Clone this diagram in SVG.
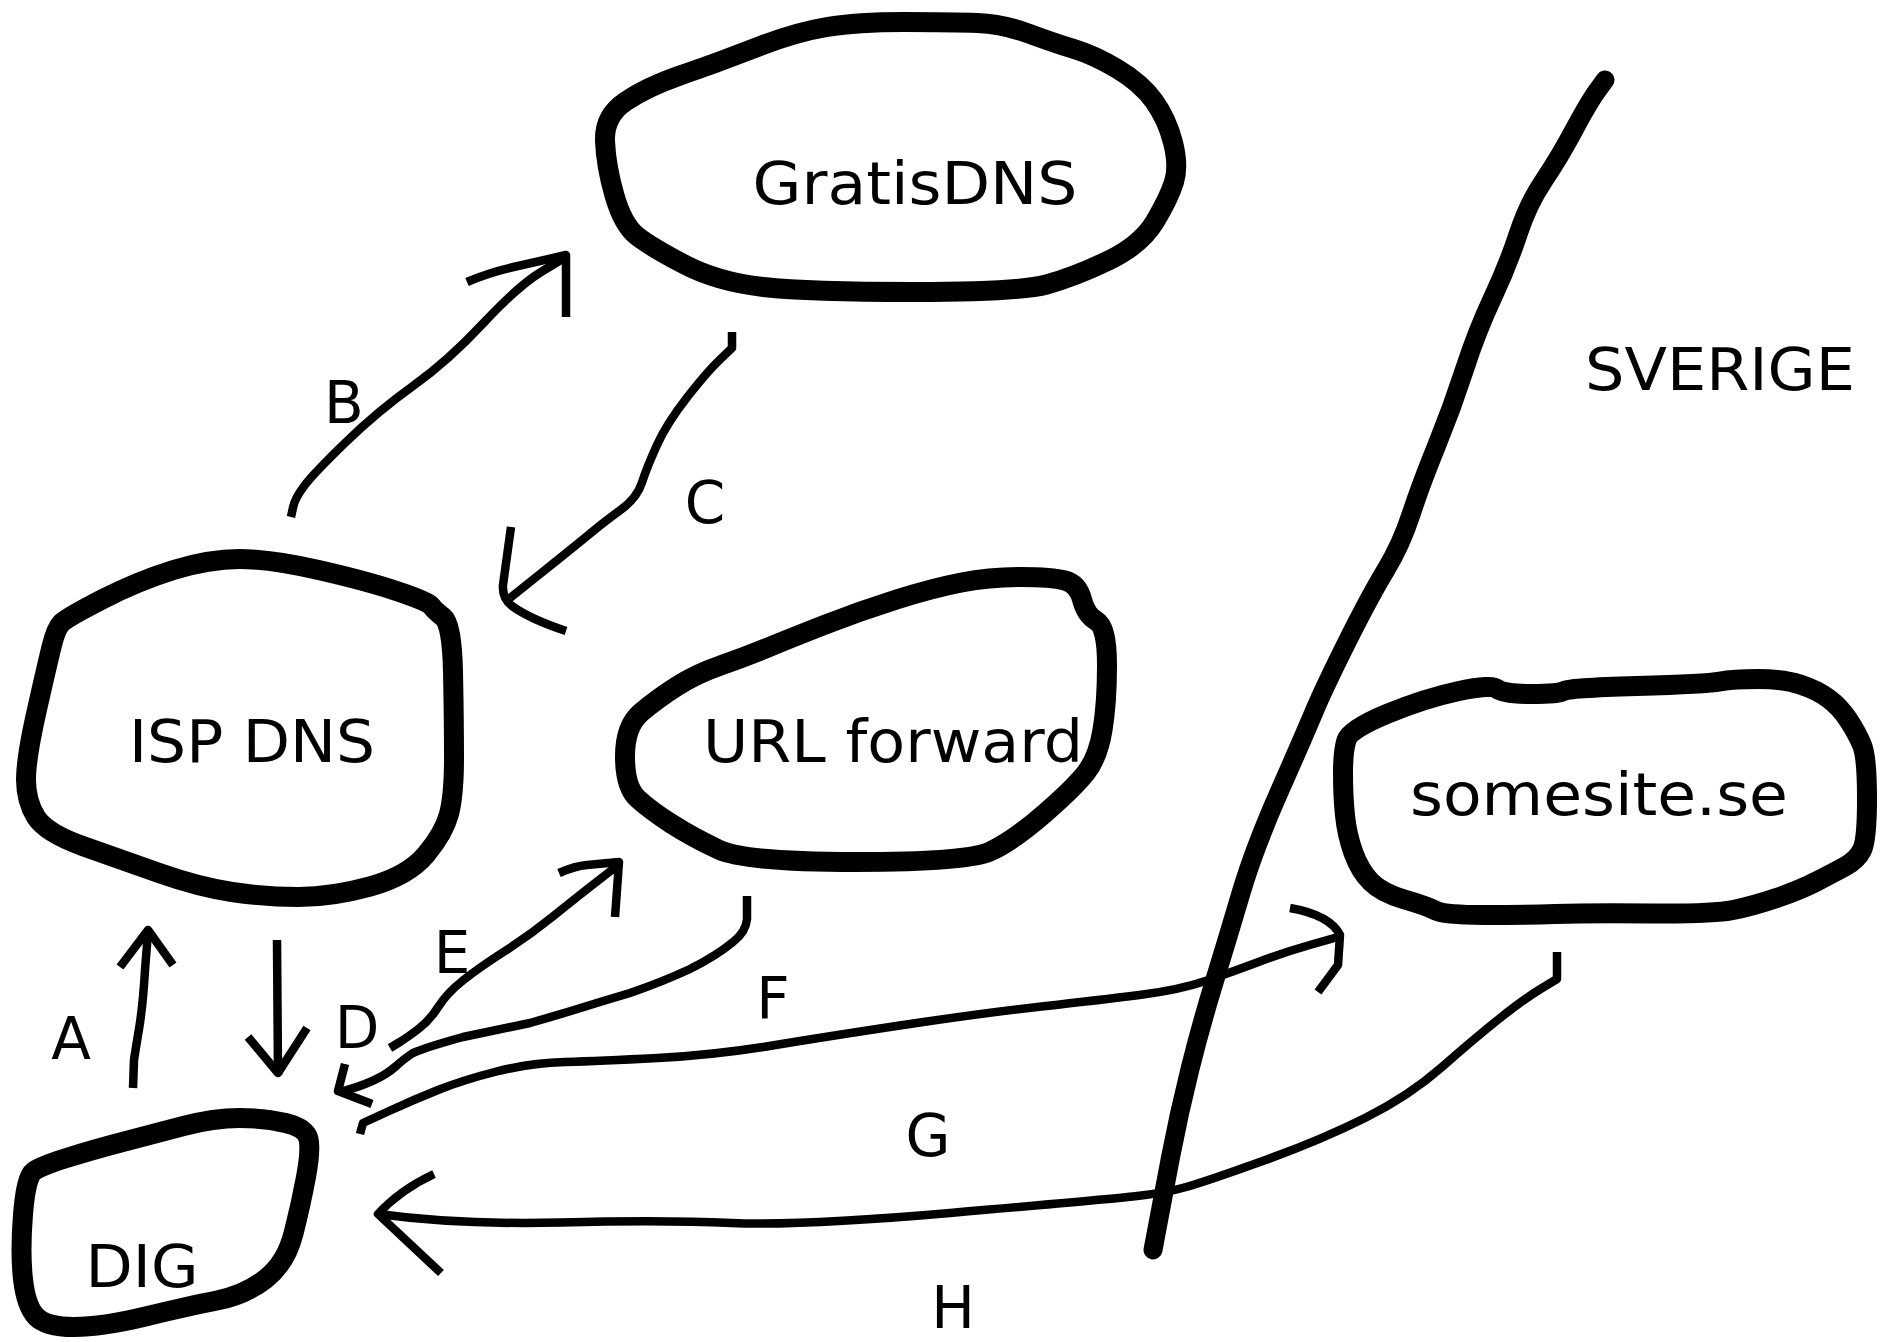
<svg xmlns="http://www.w3.org/2000/svg" width="1899" height="1342" viewBox="0 0 1899 1342">
<style>
.blob{fill:none;stroke:#000;stroke-width:20;stroke-linejoin:round}
.con{fill:none;stroke:#000;stroke-width:8.5;stroke-linejoin:round;stroke-linecap:butt}
.border{fill:none;stroke:#000;stroke-width:19;stroke-linejoin:round;stroke-linecap:round}
text{font-family:"DejaVu Sans","Liberation Sans",sans-serif;font-size:58px;fill:#000;text-anchor:middle}
</style>
<rect x="0" y="0" width="1899" height="1342" fill="#fff"/>

<g id="border">
<path class="border" d="M1605,80 L1597,91 Q1589,102 1574,130 Q1559,158 1543.5,181 Q1528,204 1518,234.5 Q1508,265 1492.5,298 Q1477,331 1464.5,369.5 Q1452,408 1436.5,446 Q1421,484 1411,514.5 Q1401,545 1385.5,570.5 Q1370,596 1347,642 Q1324,688 1313.5,713 Q1303,738 1278.5,793.5 Q1254,849 1241,893 Q1228,937 1214.5,981 Q1201,1025 1190,1069 Q1179,1113 1170.5,1157.5 Q1162,1202 1157.5,1226 L1153,1250"/>
<text x="1720" y="390" textLength="270" lengthAdjust="spacingAndGlyphs">SVERIGE</text>
</g>

<g id="gratisdns">
<path class="blob" d="M625.5,101.5 Q604,116 605,141 Q606,166 614.5,195.5 Q623,225 637,236 Q651,247 684.5,264.5 Q718,282 763.5,287 Q809,292 914,292 Q1019,292 1046.5,284.5 Q1074,277 1107.5,261 Q1141,245 1155,221.5 Q1169,198 1174,182 Q1179,166 1173,142.5 Q1167,119 1154,101 Q1141,83 1117.5,69 Q1094,55 1074,49 Q1054,43 1028.5,33.5 Q1003,24 977.5,23 Q952,22 904.5,22 Q857,22 827,27 Q797,32 761.5,45.5 Q726,59 718,62 Q710,65 678.5,76 Q647,87 625.5,101.5 Z"/>
<text x="915" y="204" textLength="325" lengthAdjust="spacingAndGlyphs">GratisDNS</text>
</g>

<g id="isp-dns">
<path class="blob" d="M61,623.5 Q56,629 52,645 Q48,661 37,709.5 Q26,758 26,779.5 Q26,801 36,817 Q46,833 84,846.5 Q122,860 160.5,873.5 Q199,887 232,892 Q265,897 298.5,897 Q332,897 370,886.5 Q408,876 426,854.5 Q444,833 449,814 Q454,795 454,757.5 Q454,720 453,672 Q452,624 443,617 Q434,610 431.5,606 Q429,602 398,591.5 Q367,581 318.5,570 Q270,559 239.5,559 Q209,559 173.5,570 Q138,581 102,599.5 Q66,618 61,623.5 Z"/>
<text x="252" y="762" textLength="246" lengthAdjust="spacingAndGlyphs">ISP DNS</text>
</g>

<g id="url-forward">
<path class="blob" d="M641,712.5 Q625,726 625,756.5 Q625,787 637.5,798.5 Q650,810 671,823.5 Q692,837 718.5,849.5 Q745,862 856,862 Q967,862 990,851.5 Q1013,841 1044,814 Q1075,787 1086.5,772 Q1098,757 1102.5,730 Q1107,703 1107,665 Q1107,627 1096.5,621 Q1086,615 1082,599.5 Q1078,584 1065,580.5 Q1052,577 1021,577 Q990,577 961.5,582.5 Q933,588 896.5,599.5 Q860,611 825.5,624.5 Q791,638 768,647.5 Q745,657 720.5,665.5 Q696,674 676.5,686.5 Q657,699 641,712.5 Z"/>
<text x="893" y="762" textLength="380" lengthAdjust="spacingAndGlyphs">URL forward</text>
</g>

<g id="dig">
<path class="blob" d="M33.5,1171.5 Q26,1177 23,1214.5 Q20,1252 23,1279 Q26,1306 36,1316.5 Q46,1327 74,1327 Q102,1327 145.5,1316.5 Q189,1306 217,1300.5 Q245,1295 265.5,1279 Q286,1263 293.5,1233.5 Q301,1204 306,1177 Q311,1150 308.5,1139 Q306,1128 285.5,1123 Q265,1118 239.5,1118 Q214,1118 183.5,1126 Q153,1134 122.5,1142 Q92,1150 66.5,1158 Q41,1166 33.5,1171.5 Z"/>
<text x="142" y="1287" textLength="113" lengthAdjust="spacingAndGlyphs">DIG</text>
</g>

<g id="somesite">
<path class="blob" d="M1346.5,740 Q1343,751 1343,773.5 Q1343,796 1345,815.5 Q1347,835 1353.5,853 Q1360,871 1371,882 Q1382,893 1404.5,899.5 Q1427,906 1435.5,910.5 Q1444,915 1484,915 Q1524,915 1555.5,914 Q1587,913 1650,913.5 Q1713,914 1733,910 Q1753,906 1776.5,898 Q1800,890 1816.5,881.5 Q1833,873 1845,866.5 Q1857,860 1862,850 Q1867,840 1867,798.5 Q1867,757 1862,745 Q1857,733 1848.5,720 Q1840,707 1828.5,698.5 Q1817,690 1800,684.5 Q1783,679 1758,679 Q1733,679 1720,681.5 Q1707,684 1637,686 Q1567,688 1563.5,691 Q1560,694 1531.5,694 Q1503,694 1497.5,689 Q1492,684 1459,691 Q1426,698 1388,713.5 Q1350,729 1346.5,740 Z"/>
<text x="1599" y="815" textLength="378" lengthAdjust="spacingAndGlyphs">somesite.se</text>
</g>

<g id="connectors">
<!-- A: DIG -> ISP DNS -->
<path class="con" d="M133,1088 L134,1060 Q135,1053 139,1029 Q143,1005 145,970 L148,932"/>
<path class="con" d="M120,967 L148,930 L173,965"/>
<text x="71" y="1059">A</text>
<!-- B: ISP DNS -> GratisDNS -->
<path class="con" d="M291,517 L293,507.5 Q295,498 304.5,485.5 Q314,473 346,442 Q378,411 413,386 Q448,361 483,323.5 Q518,286 541,272 L564,258"/>
<path class="con" d="M467,282 Q490,272 518,266 L566,255 L566,317"/>
<text x="344" y="423">B</text>
<!-- C: GratisDNS -> ISP DNS -->
<path class="con" d="M732,332 L732,348 L719.5,360 Q707,372 687,397.5 Q667,423 657,445 Q647,467 642,482.5 Q637,498 620.5,510 Q604,522 592,532 Q580,542 545,570 L510,598"/>
<path class="con" d="M511,527 L503,585 Q502,598 512,606 Q530,619 566,631"/>
<text x="705" y="523">C</text>
<!-- D: ISP DNS -> DIG -->
<path class="con" d="M277,940 L278,1075"/>
<path class="con" d="M248,1037 L278,1073 L307,1028"/>
<text x="357" y="1048">D</text>
<!-- E: DIG -> URL forward -->
<path class="con" d="M390,1048 L399,1042.5 Q408,1037 419,1028.5 Q430,1020 438.5,1006.5 Q447,993 463.5,980 Q480,967 505,951 Q530,935 553.5,916 Q577,897 597,881.5 L617,866"/>
<path class="con" d="M559,873 Q575,866 587,865 L619,862 L615,917"/>
<text x="452" y="973">E</text>
<!-- F: URL forward -> DIG -->
<path class="con" d="M747,896 L747,919 Q746,932 733,942 Q716,956 690,969 Q662,982 630,993 L600,1002 Q565,1013 530,1023 Q497,1030 463,1037 Q430,1046 413,1053 Q405,1058 395,1067 Q378,1082 340,1092"/>
<path class="con" d="M345,1064 L338,1091 L372,1104"/>
<text x="773" y="1019">F</text>
<!-- G: DIG -> somesite.se -->
<path class="con" d="M360,1134 L363,1123 L388,1111.5 Q413,1100 438,1090 Q463,1080 496.5,1071.5 Q530,1063 565,1062 Q600,1061 657.5,1058 Q715,1055 772.5,1045.5 Q830,1036 906.5,1024.5 Q983,1013 1041.5,1006.5 Q1100,1000 1139.5,995 Q1179,990 1205.5,981 Q1232,972 1258.5,962 Q1285,952 1311.5,944.5 L1338,937"/>
<path class="con" d="M1290,908 Q1330,915 1340,935 L1338,965 L1318,992"/>
<text x="928" y="1156">G</text>
<!-- H: somesite.se -> DIG -->
<path class="con" d="M1557,952 L1557,979 L1540.5,989 Q1524,999 1499.5,1018.5 Q1475,1038 1442,1067 Q1409,1096 1365,1118 Q1321,1140 1265.5,1160 Q1210,1180 1188,1186.5 Q1166,1193 1133,1196.5 Q1100,1200 950,1213 Q800,1226 731.5,1223 Q663,1220 561,1222.5 Q459,1225 378,1214"/>
<path class="con" d="M434,1174 Q400,1190 378,1214 L441,1273"/>
<text x="953" y="1328">H</text>
</g>
</svg>
